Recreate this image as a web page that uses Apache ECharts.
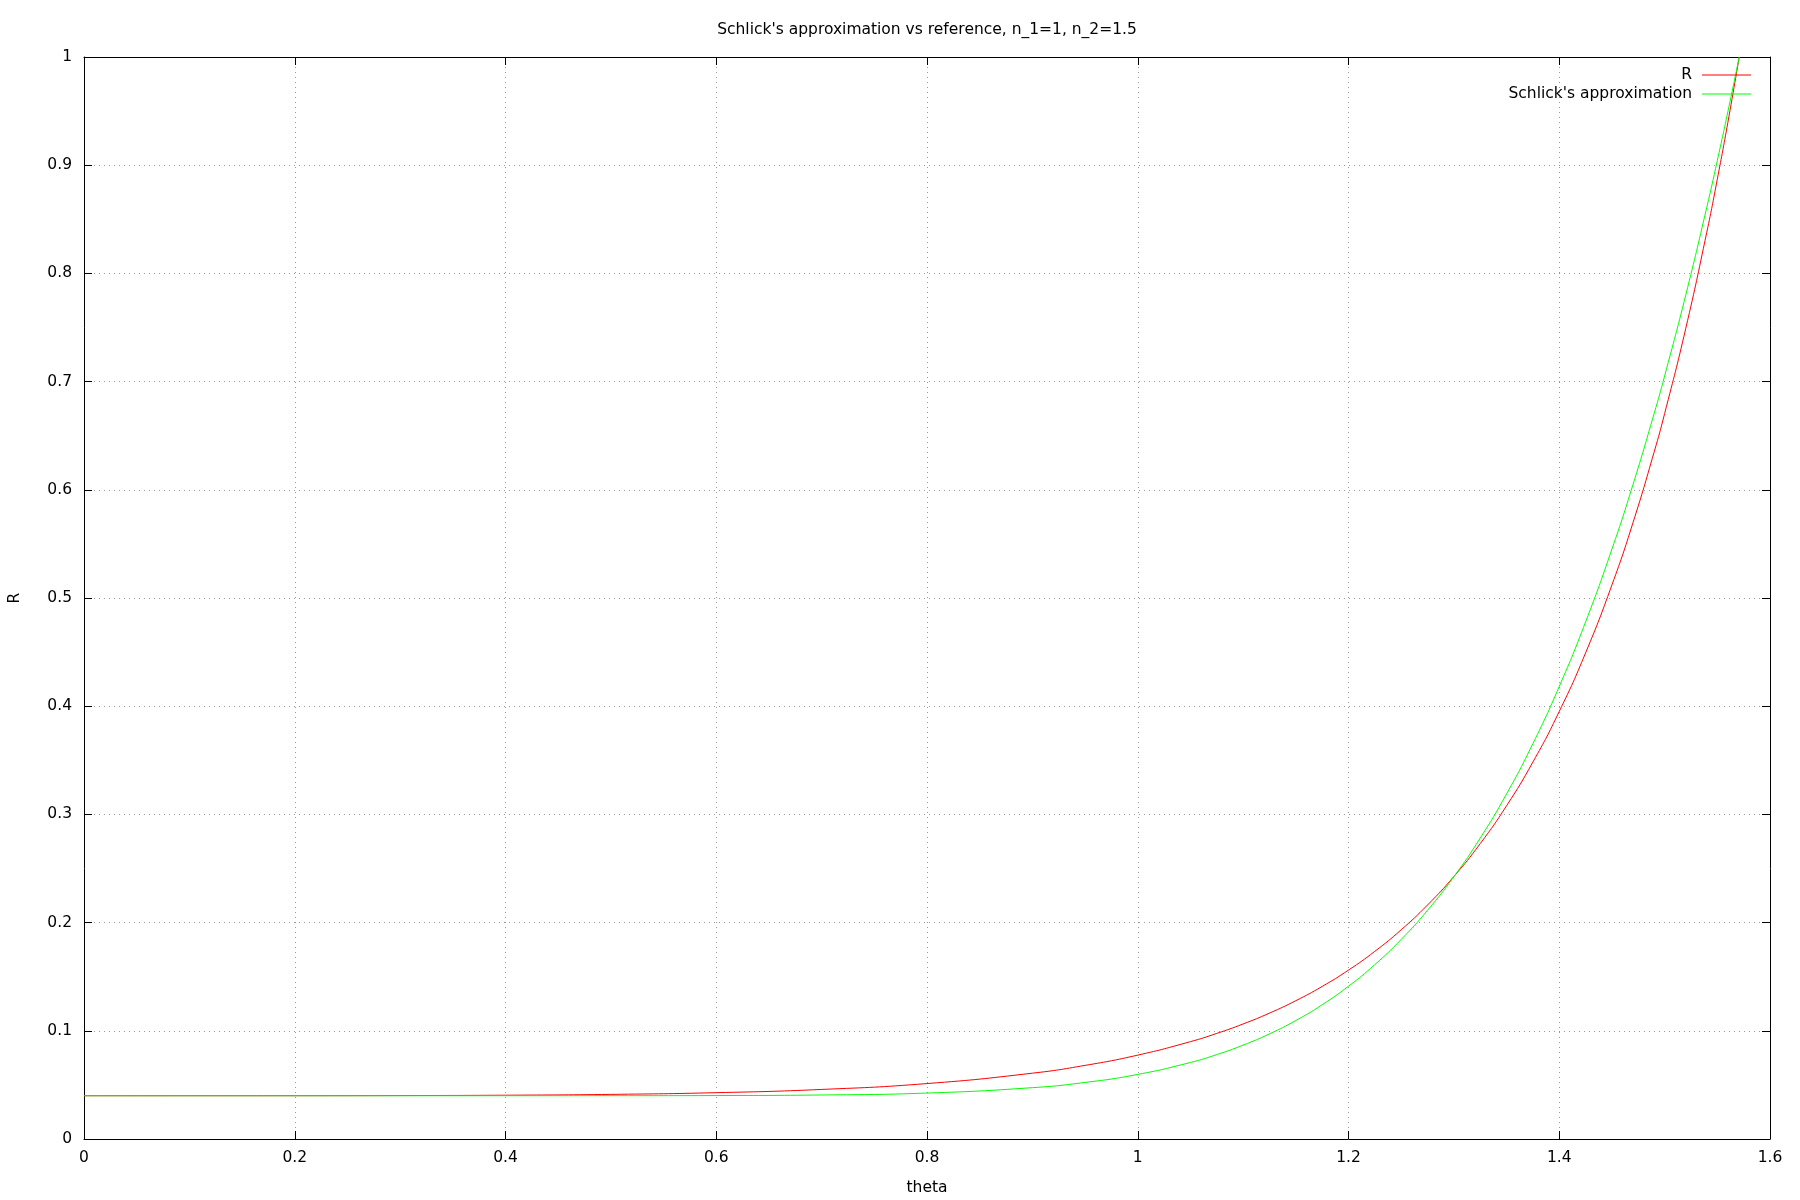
<!DOCTYPE html>
<html>
<head>
<meta charset="utf-8">
<script src="https://cdn.jsdelivr.net/npm/echarts@6/dist/echarts.min.js"></script>
<style>html,body{margin:0;padding:0;background:#fff}#c{width:1800px;height:1200px}</style>
</head>
<body>
<div id="c"></div>
<script>
const titleText = "Schlick's approximation vs reference, n_1=1, n_2=1.5";
const xName = "theta";
const yName = "R";
const seriesNames = ["R", "Schlick's approximation"];
const thetaValues = [0, 0.1, 0.2, 0.3, 0.4, 0.5, 0.6, 0.7, 0.8, 0.9, 0.95, 1.0, 1.05, 1.075, 1.1, 1.125, 1.15, 1.175, 1.2, 1.225, 1.25, 1.275, 1.3, 1.325, 1.35, 1.375, 1.4, 1.425, 1.45, 1.47, 1.49, 1.5, 1.52, 1.54, 1.55, 1.56, 1.5708];
const rValues = [0.04, 0.040002, 0.040028, 0.040142, 0.040473, 0.041242, 0.042815, 0.045807, 0.051242, 0.060839, 0.068044, 0.077523, 0.089978, 0.097606, 0.106337, 0.116344, 0.127832, 0.140992, 0.156107, 0.17345, 0.193369, 0.216276, 0.24263, 0.272985, 0.307983, 0.348396, 0.395132, 0.449269, 0.5121, 0.569668, 0.634736, 0.670423, 0.748885, 0.837997, 0.887055, 0.939434, 1.0];
const schlickValues = [0.04, 0.04, 0.04, 0.04, 0.040003, 0.040026, 0.040156, 0.04069, 0.042464, 0.047447, 0.052297, 0.059708, 0.070735, 0.078028, 0.086756, 0.097162, 0.109518, 0.12408, 0.141195, 0.161187, 0.184444, 0.211383, 0.242448, 0.278126, 0.318938, 0.365439, 0.418224, 0.477916, 0.545177, 0.604904, 0.670288, 0.70522, 0.779809, 0.861028, 0.90425, 0.949287, 1.0];
const xTicks = {min: 0, max: 1.6, interval: 0.2};
const yTicks = {min: 0, max: 1, interval: 0.1};

const FONT = "DejaVu Sans";
const FS = 15.5;
const pairs = (xs, ys) => xs.map((x, i) => [x, ys[i]]);
const chart = echarts.init(document.getElementById('c'), null, {renderer: 'canvas'});
const tickStyle = {show: true, inside: true, length: 8, lineStyle: {color: '#000', width: 1}};
const axisLine = {show: true, onZero: false, lineStyle: {color: '#000', width: 1}};
const labelStyle = {color: '#000', fontFamily: FONT, fontSize: FS};
const gridLine = {show: true, lineStyle: {color: '#999', width: 1, type: [1, 4]}};

const legendCommon = {
  orient: 'horizontal', align: 'right', right: 49, itemWidth: 49, itemHeight: 1,
  icon: 'rect', padding: 0, itemGap: 0, selectedMode: false,
  textStyle: {color: '#000', fontFamily: FONT, fontSize: FS, padding: [0, 5, 0, 0]}
};

chart.setOption({
  backgroundColor: '#fff',
  animation: false,
  title: {
    text: titleText, left: 927, textAlign: 'center', top: 22, padding: 0,
    textStyle: {color: '#000', fontFamily: FONT, fontSize: FS, fontWeight: 'normal'}
  },
  legend: [
    Object.assign({}, legendCommon, {top: 67, data: [seriesNames[0]]}),
    Object.assign({}, legendCommon, {top: 86, data: [seriesNames[1]]})
  ],
  grid: {left: 84, right: 30, top: 57, bottom: 61, containLabel: false, outerBoundsMode: 'none'},
  xAxis: [
    {type: 'value', min: xTicks.min, max: xTicks.max, interval: xTicks.interval,
     name: xName, nameLocation: 'middle', nameGap: 41,
     nameTextStyle: {color: '#000', fontFamily: FONT, fontSize: FS},
     axisLine: axisLine, axisTick: tickStyle,
     axisLabel: Object.assign({margin: 11}, labelStyle), splitLine: gridLine},
    {type: 'value', position: 'top', min: xTicks.min, max: xTicks.max, interval: xTicks.interval,
     axisLine: axisLine, axisTick: tickStyle, axisLabel: {show: false}, splitLine: {show: false}}
  ],
  yAxis: [
    {type: 'value', min: yTicks.min, max: yTicks.max, interval: yTicks.interval,
     name: yName, nameLocation: 'middle', nameGap: 61,
     nameTextStyle: {color: '#000', fontFamily: FONT, fontSize: FS},
     axisLine: axisLine, axisTick: tickStyle,
     axisLabel: Object.assign({margin: 12}, labelStyle), splitLine: gridLine},
    {type: 'value', position: 'right', min: yTicks.min, max: yTicks.max, interval: yTicks.interval,
     axisLine: axisLine, axisTick: tickStyle, axisLabel: {show: false}, splitLine: {show: false}}
  ],
  series: [
    {name: seriesNames[0], type: 'line', data: pairs(thetaValues, rValues),
     symbol: 'none', smooth: 0.5, clip: true,
     lineStyle: {color: '#ff0000', width: 1}, itemStyle: {color: '#ff0000'}},
    {name: seriesNames[1], type: 'line', data: pairs(thetaValues, schlickValues),
     symbol: 'none', smooth: 0.5, clip: true,
     lineStyle: {color: '#00ff00', width: 1}, itemStyle: {color: '#00ff00'}}
  ]
});
</script>
</body>
</html>
